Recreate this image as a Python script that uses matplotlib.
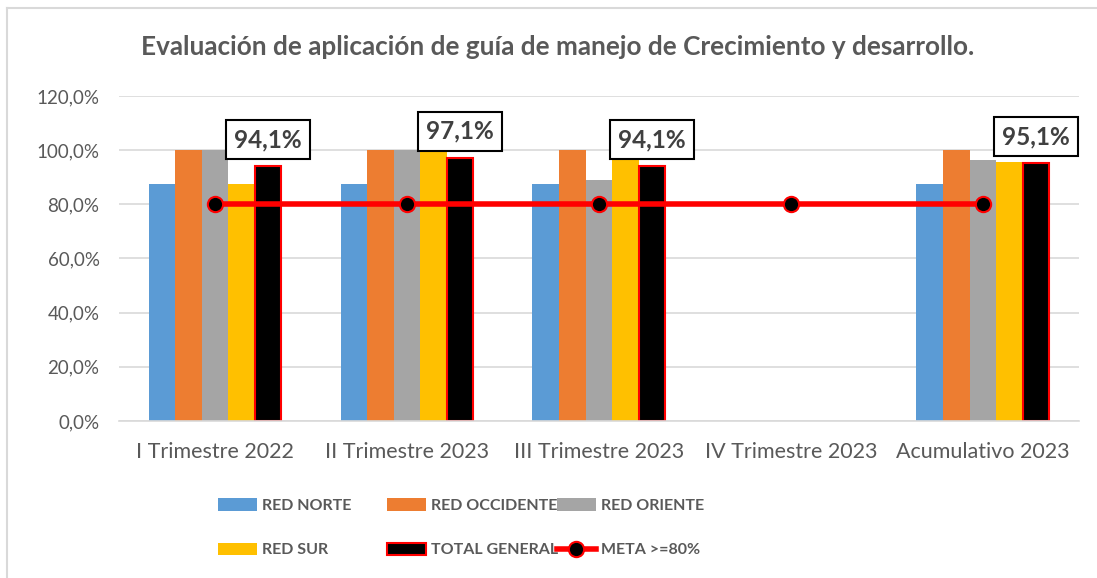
import numpy as np
import matplotlib.pyplot as plt
from matplotlib.lines import Line2D
from matplotlib.patches import Patch

# datos del grafico
categorias = ['I Trimestre 2022', 'II Trimestre 2023', 'III Trimestre 2023',
              'IV Trimestre 2023', 'Acumulativo 2023']
red_norte = [87.5, 87.5, 87.5, np.nan, 87.5]
red_occidente = [100.0, 100.0, 100.0, np.nan, 100.0]
red_oriente = [100.0, 100.0, 88.9, np.nan, 96.3]
red_sur = [87.5, 100.0, 100.0, np.nan, 95.7]
total_general = [94.1, 97.1, 94.1, np.nan, 95.1]
meta = [80.0, 80.0, 80.0, 80.0, 80.0]

gris = '#595959'
plt.rcParams['font.family'] = ['Lato', 'DejaVu Sans']

fig = plt.figure(figsize=(10.97, 5.78), dpi=100)
ax = fig.add_axes([0.1085, 0.2716, 0.875, 0.5624])

x = np.arange(len(categorias))
w = 0.1385
series = [
    (red_norte, '#5b9bd5', 'RED NORTE'),
    (red_occidente, '#ed7d31', 'RED OCCIDENTE'),
    (red_oriente, '#a5a5a5', 'RED ORIENTE'),
    (red_sur, '#ffc000', 'RED SUR'),
]
handles = {}
for i, (vals, col, nom) in enumerate(series):
    ax.bar(x + (i - 2) * w, vals, w, color=col, zorder=2)
    handles[nom] = Patch(facecolor=col, label=nom)

ax.bar(x + 2 * w, total_general, w * 0.97, color='black', edgecolor='red', linewidth=1.5, zorder=2)
handles['TOTAL GENERAL'] = Patch(facecolor='black', edgecolor='red', linewidth=1.5, label='TOTAL GENERAL')

ax.plot(x, meta, color='red', linewidth=4, marker='o', markersize=11,
        markerfacecolor='black', markeredgecolor='red', markeredgewidth=1.5, zorder=4)
handles['META >=80%'] = Line2D([], [], color='red', linewidth=4, marker='o', markersize=11,
                               markerfacecolor='black', markeredgecolor='red', markeredgewidth=1.5)

# etiquetas del total
for xi, v in zip(x, total_general):
    if np.isnan(v):
        continue
    ax.text(xi + 2 * w, v + 5.6, f'{v:.1f}%'.replace('.', ','), ha='center', va='bottom',
            fontsize=17.5, fontweight='bold', color='#404040', zorder=5,
            bbox=dict(boxstyle='square,pad=0.33', facecolor='white', edgecolor='black', linewidth=1.5))

ax.set_xlim(-0.5, 4.5)
ax.set_ylim(0, 120)
ax.set_yticks(np.arange(0, 121, 20))
ax.set_yticklabels([f'{t:.1f}%'.replace('.', ',') for t in np.arange(0, 121, 20)])
ax.set_xticks(x)
ax.set_xticklabels(categorias)
ax.tick_params(axis='both', length=0, colors=gris)
ax.tick_params(axis='x', pad=15, labelsize=15.5)
ax.tick_params(axis='y', pad=14, labelsize=13.5)
ax.grid(axis='y', color='#d9d9d9', linewidth=1.2, zorder=0)
ax.set_axisbelow(True)
for s in ['top', 'right', 'left']:
    ax.spines[s].set_visible(False)
ax.spines['bottom'].set_color('#d9d9d9')
ax.spines['bottom'].set_linewidth(1.2)

fig.text(0.508, 0.919, 'Evaluación de aplicación de guía de manejo de Crecimiento y desarrollo.',
         ha='center', va='center', fontsize=18.8, fontweight='bold', color=gris)

# leyenda en tres columnas
cols = [(['RED NORTE', 'RED SUR'], 0.1912), (['RED OCCIDENTE', 'TOTAL GENERAL'], 0.3457),
        (['RED ORIENTE', 'META >=80%'], 0.5002)]
for noms, xl in cols:
    fig.legend([handles[n] for n in noms], noms, loc='upper left', bbox_to_anchor=(xl, 0.152),
               bbox_transform=fig.transFigure, frameon=False, ncol=1,
               prop={'weight': 'bold', 'size': 11.5},
               labelcolor=gris, handlelength=2.45,
               handleheight=0.85, handletextpad=0.3, labelspacing=1.85, borderpad=0)

# borde del grafico
fig.add_artist(Line2D([0.0064, 1.0], [0.986, 0.986], color='#d9d9d9', linewidth=1.5))
fig.add_artist(Line2D([0.0064, 0.0064], [0.0, 0.986], color='#d9d9d9', linewidth=1.5))

plt.savefig('out.png', dpi=100)
